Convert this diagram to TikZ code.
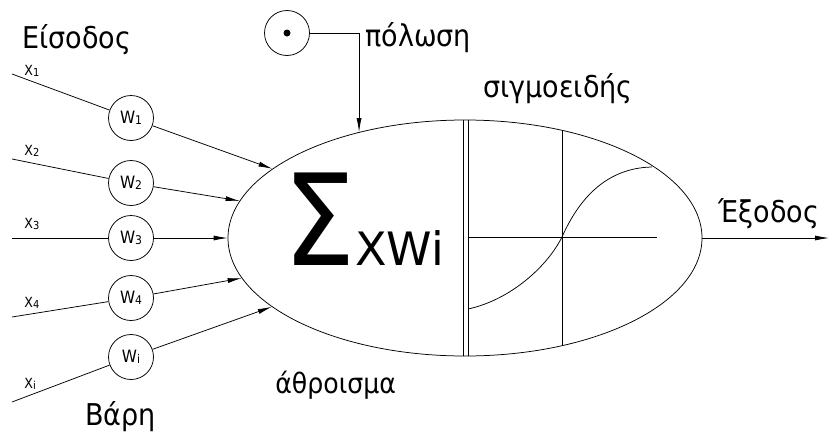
\documentclass[tikz,border=0pt]{standalone}
\usepackage{fontspec}
\setmainfont{DejaVu Sans}[FakeStretch=0.9]
\newfontfamily\widefont{DejaVu Sans}
\usetikzlibrary{shapes.geometric,arrows.meta,calc}
\newcommand{\mysub}[1]{\raisebox{-1pt}{\fontsize{11}{11}\selectfont #1}}
\newcommand{\mywsub}[1]{\raisebox{-1.5pt}{\fontsize{12}{12}\selectfont #1}}
\begin{document}
\begin{tikzpicture}[x=1pt,y=-1pt,line width=0.75pt,
  wt/.style={draw,circle,minimum size=45pt,inner sep=0pt,font=\fontsize{17}{17}\selectfont},
  lbl/.style={anchor=base west,inner sep=0pt,font=\fontsize{30}{30}\selectfont},
  xl/.style={anchor=base west,inner sep=0pt,font=\fontsize{14}{14}\selectfont},
  arr/.style={-{Latex[length=14pt,width=5pt]}}]
\useasboundingbox (0,0) rectangle (830,434);

% neuron body
\node[draw,ellipse,minimum width=474pt,minimum height=236pt,inner sep=0pt] (neuron) at (465,238) {};
\draw (463,120) -- (463,356);
\draw (468,120) -- (468,356);
\draw (468,237) -- (657,237);
\draw (562,130) -- (562,346);
\draw (468,309) .. controls (510,300) and (547,267) .. (562,237)
      .. controls (575,208) and (600,168) .. (652,167);

% sum text
\node[anchor=base west,inner sep=0pt,font=\fontsize{127}{127}\selectfont] (sig) at (283,265) {Σ};
\node[anchor=base west,inner sep=0pt,font=\widefont\fontsize{46}{46}\selectfont] (xwi) at (355,265) {XWi};

% weights
\node[wt] (w1) at (131,118) {W\mywsub{1}};
\node[wt] (w2) at (131,183) {W\mywsub{2}};
\node[wt] (w3) at (131,238) {W\mywsub{3}};
\node[wt] (w4) at (131,298) {W\mywsub{4}};
\node[wt] (wi) at (131,357) {W\mywsub{i}};

% inputs
\coordinate (i1) at (12,74);
\coordinate (i2) at (12,159);
\coordinate (i3) at (12,238);
\coordinate (i4) at (12,317);
\coordinate (ii) at (12,402);
\draw (i1) -- (w1);
\draw (i2) -- (w2);
\draw (i3) -- (w3);
\draw (i4) -- (w4);
\draw (ii) -- (wi);
\node[xl] (l1) at (24,75) {X\mysub{1}};
\node[xl] (l2) at (24,155) {X\mysub{2}};
\node[xl] (l3) at (24,228) {X\mysub{3}};
\node[xl] (l4) at (24,307) {X\mysub{4}};
\node[xl] (li) at (24,388) {X\mysub{i}};

% weighted arrows
\draw[arr] (w1) -- (neuron);
\draw[arr] (w2) -- (neuron);
\draw[arr] (w3) -- (neuron);
\draw[arr] (w4) -- (neuron);
\draw[arr] (wi) -- (neuron);

% bias
\node[draw,circle,minimum size=45pt,inner sep=0pt] (bias) at (287,33) {};
\fill (bias.center) circle (3.5pt);
\draw[arr] (bias.east) -| (neuron.135.5);

% output
\coordinate (out) at (829,238);
\draw[arr] (neuron.east) -- (out);

% labels
\node[lbl] (t1) at (22,48) {Είσοδος};
\node[lbl] (t2) at (365,46) {πόλωση};
\node[lbl,font=\fontsize{30}{30}\selectfont] (t3) at (483,97) {σιγμοειδής};
\node[lbl,font=\fontsize{28}{28}\selectfont] (t4) at (275,393) {άθροισμα};
\node[lbl] (t5) at (718,222) {Έξοδος};
\node[lbl] (t6) at (85,425) {Βάρη};
\end{tikzpicture}
\end{document}
